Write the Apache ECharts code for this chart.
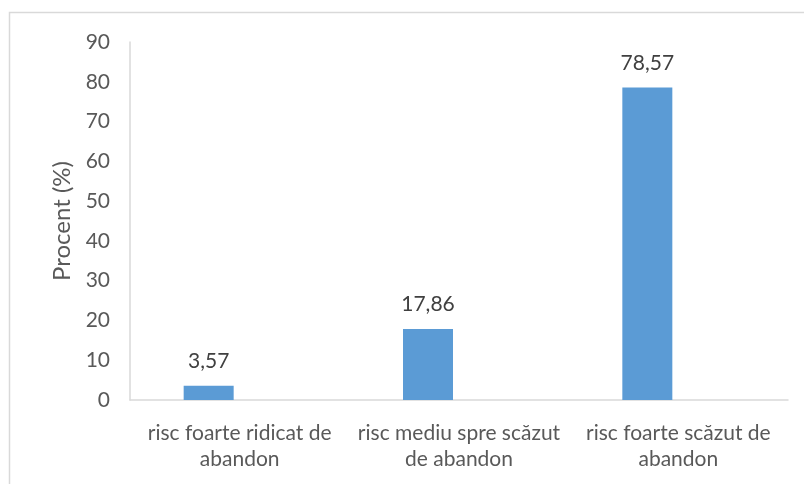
<!DOCTYPE html>
<html><head><meta charset="utf-8">
<script src="https://cdn.jsdelivr.net/npm/echarts@6/dist/echarts.min.js"></script>
<style>html,body{margin:0;padding:0;background:#fff}#c{width:804px;height:484px}</style>
</head><body><div id="c"></div>
<script>
const categories = ["risc foarte ridicat de\nabandon", "risc mediu spre scăzut\nde abandon", "risc foarte scăzut de\nabandon"];
const values = [3.57, 17.86, 78.57];
const emptyValues = [null, null, null];
const yMin = 0, yMax = 90, yInterval = 10;
const yName = "Procent (%)";
const FONT = "Lato";
const chart = echarts.init(document.getElementById('c'), null, {renderer: 'canvas'});
chart.setOption({
  animation: false,
  textStyle: {fontFamily: FONT},
  graphic: [{type: 'rect', shape: {x: 9.5, y: 12.5, width: 820, height: 500}, style: {fill: 'none', stroke: '#d9d9d9', lineWidth: 1.5}, z: -1}],
  grid: {left: 130, right: 16, top: 42, bottom: 84},
  xAxis: {
    type: 'category', data: categories,
    axisLine: {lineStyle: {color: '#d9d9d9', width: 1.5}},
    axisTick: {show: false},
    axisLabel: {color: '#595959', fontSize: 21, fontFamily: FONT, lineHeight: 26, margin: 20, interval: 0}
  },
  yAxis: {
    type: 'value', min: yMin, max: yMax, interval: yInterval,
    name: yName, nameLocation: 'middle', nameGap: 56, nameRotate: 90,
    nameTextStyle: {color: '#595959', fontSize: 24, fontFamily: FONT},
    axisLine: {show: true, lineStyle: {color: '#d9d9d9', width: 1.5}},
    axisTick: {show: false},
    splitLine: {show: false},
    axisLabel: {color: '#595959', fontSize: 21, fontFamily: FONT, margin: 20}
  },
  series: [{
    type: 'bar', data: values, barWidth: 50, barGap: '24%',
    itemStyle: {color: '#5b9bd5'},
    label: {show: true, position: 'top', distance: 14, color: '#404040', fontSize: 21, fontFamily: FONT,
      formatter: p => p.value.toFixed(2).replace('.', ',')}
  }, {
    type: 'bar', data: emptyValues, barWidth: 50
  }]
});
</script></body></html>
